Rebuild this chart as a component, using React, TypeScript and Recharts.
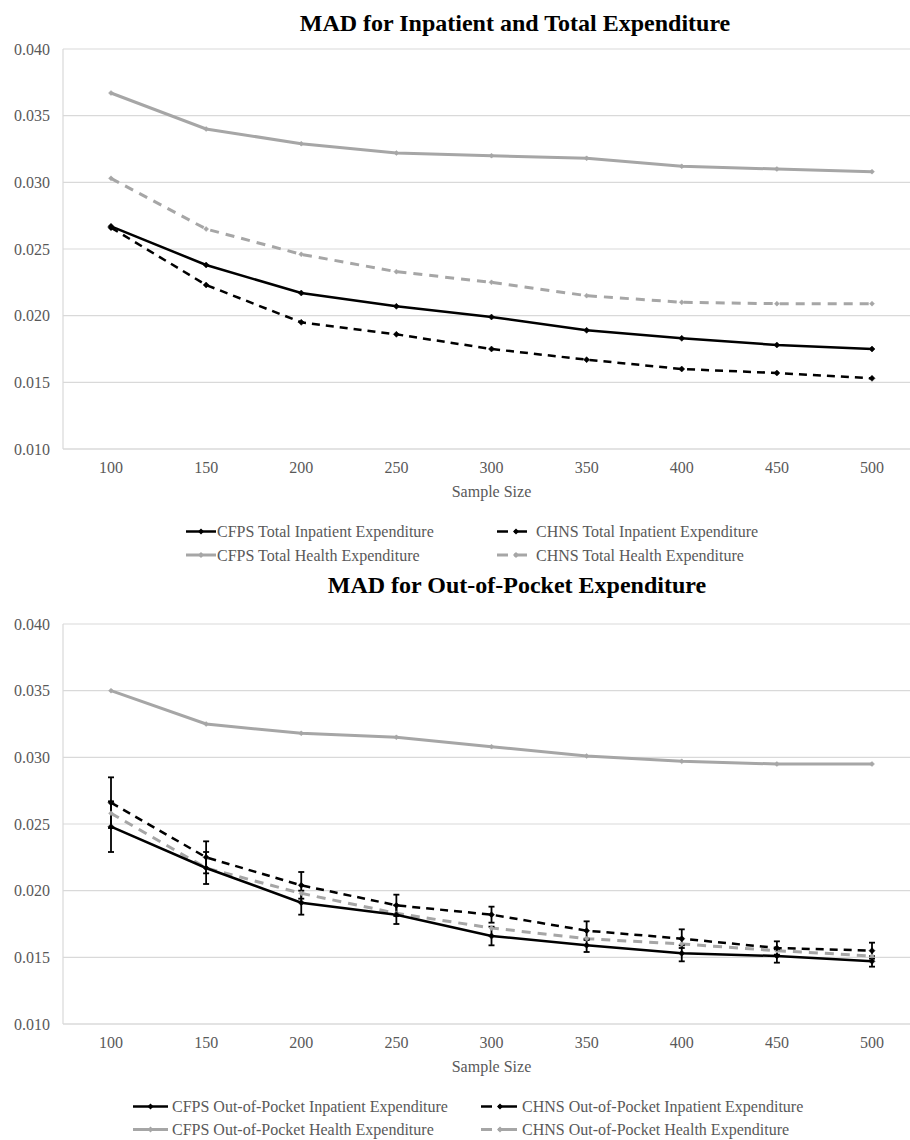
import React from 'react';
import { LineChart, Line, XAxis, YAxis, CartesianGrid, ErrorBar } from 'recharts';

// ---- Data ----
const sampleSizes = [100, 150, 200, 250, 300, 350, 400, 450, 500];
const yTicks = [0.01, 0.015, 0.02, 0.025, 0.03, 0.035, 0.04];

// Chart 1: MAD for Inpatient and Total Expenditure
const cfpsTotalInpatient = [0.0267, 0.0238, 0.0217, 0.0207, 0.0199, 0.0189, 0.0183, 0.0178, 0.0175];
const chnsTotalInpatient = [0.0266, 0.0223, 0.0195, 0.0186, 0.0175, 0.0167, 0.016, 0.0157, 0.0153];
const cfpsTotalHealth = [0.0367, 0.034, 0.0329, 0.0322, 0.032, 0.0318, 0.0312, 0.031, 0.0308];
const chnsTotalHealth = [0.0303, 0.0265, 0.0246, 0.0233, 0.0225, 0.0215, 0.021, 0.0209, 0.0209];

// Chart 2: MAD for Out-of-Pocket Expenditure
const cfpsOopInpatient = [0.0248, 0.0217, 0.0191, 0.0182, 0.0166, 0.0159, 0.0153, 0.0151, 0.0147];
const cfpsOopInpatientErr = [0.0019, 0.0012, 0.0009, 0.0007, 0.0007, 0.0005, 0.0006, 0.0005, 0.0004];
const chnsOopInpatient = [0.0266, 0.0225, 0.0204, 0.0189, 0.0182, 0.017, 0.0164, 0.0157, 0.0155];
const chnsOopInpatientErr = [0.0019, 0.0012, 0.001, 0.0008, 0.0006, 0.0007, 0.0007, 0.0005, 0.0006];
const cfpsOopHealth = [0.035, 0.0325, 0.0318, 0.0315, 0.0308, 0.0301, 0.0297, 0.0295, 0.0295];
const chnsOopHealth = [0.0258, 0.0217, 0.0198, 0.0183, 0.0172, 0.0164, 0.016, 0.0155, 0.0151];

const titles = ['MAD for Inpatient and Total Expenditure', 'MAD for Out-of-Pocket Expenditure'];
const legend1 = [
  'CFPS Total Inpatient Expenditure',
  'CHNS Total Inpatient Expenditure',
  'CFPS Total Health Expenditure',
  'CHNS Total Health Expenditure',
];
const legend2 = [
  'CFPS Out-of-Pocket Inpatient Expenditure',
  'CHNS Out-of-Pocket Inpatient Expenditure',
  'CFPS Out-of-Pocket Health Expenditure',
  'CHNS Out-of-Pocket Health Expenditure',
];
const xAxisTitle = 'Sample Size';

const topData = sampleSizes.map((n, i) => ({
  n,
  cfpsInp: cfpsTotalInpatient[i],
  chnsInp: chnsTotalInpatient[i],
  cfpsHlth: cfpsTotalHealth[i],
  chnsHlth: chnsTotalHealth[i],
}));

const bottomData = sampleSizes.map((n, i) => ({
  n,
  cfpsInp: cfpsOopInpatient[i],
  cfpsInpErr: cfpsOopInpatientErr[i],
  chnsInp: chnsOopInpatient[i],
  chnsInpErr: chnsOopInpatientErr[i],
  cfpsHlth: cfpsOopHealth[i],
  chnsHlth: chnsOopHealth[i],
}));

// ---- Styles ----
const FONT = "'Liberation Serif', 'Times New Roman', serif";
const BLACK = '#000000';
const GRAY = '#a6a6a6';
const GRID = '#d9d9d9';
const TEXT = '#595959';

const makeDot = (color: string, r: number) => (props: any) => {
  const { cx, cy, index } = props;
  if (cx == null || cy == null) return <g key={`e${index}`} />;
  return (
    <path
      key={`d${index}`}
      d={`M${cx},${cy - r}L${cx + r},${cy}L${cx},${cy + r}L${cx - r},${cy}Z`}
      fill={color}
      stroke={color}
      strokeWidth={0.5}
      strokeDasharray="0"
    />
  );
};

const tickStyle = { fill: TEXT, fontSize: 16, fontFamily: FONT };

function ChartFrame({ data, children }: { data: any[]; children: React.ReactNode }) {
  return (
    <LineChart width={920} height={509} data={data} margin={{ top: 49, right: 0, bottom: 0, left: 0 }}>
      <CartesianGrid vertical={false} stroke={GRID} strokeWidth={1.2} />
      <XAxis
        dataKey="n"
        type="category"
        padding={{ left: 48, right: 48 }}
        tickLine={false}
        tickSize={0}
        tickMargin={13}
        axisLine={{ stroke: GRID, strokeWidth: 1.2 }}
        tick={tickStyle}
        height={60}
        interval={0}
        label={{ value: xAxisTitle, position: 'insideBottom', offset: 12, fill: TEXT, fontSize: 16, fontFamily: FONT }}
      />
      <YAxis
        type="number"
        domain={[0.01, 0.04]}
        ticks={yTicks}
        tickFormatter={(v: number) => v.toFixed(3)}
        tickLine={false}
        tickSize={0}
        tickMargin={13}
        axisLine={{ stroke: GRID, strokeWidth: 1.2 }}
        tick={tickStyle}
        width={63}
        interval={0}
      />
      {children}
    </LineChart>
  );
}

function LegendIcon({ x1, x2, y, color, dashed, w }: { x1: number; x2: number; y: number; color: string; dashed: boolean; w: number }) {
  const r = 3;
  if (dashed) {
    const mx = x1 + 19;
    return (
      <g>
        <line x1={x1} x2={x1 + 11} y1={y} y2={y} stroke={color} strokeWidth={w} />
        <line x1={x1 + 17} x2={x2} y1={y} y2={y} stroke={color} strokeWidth={w} />
        <path d={`M${mx},${y - r}L${mx + r},${y}L${mx},${y + r}L${mx - r},${y}Z`} fill={color} />
      </g>
    );
  }
  const mx = (x1 + x2) / 2;
  return (
    <g>
      <line x1={x1} x2={x2} y1={y} y2={y} stroke={color} strokeWidth={w} />
      <path d={`M${mx},${y - r}L${mx + r},${y}L${mx},${y + r}L${mx - r},${y}Z`} fill={color} />
    </g>
  );
}

function Overlay() {
  const legendRows = [
    { labels: legend1, y1: 537, y2: 560.5, c1: [186, 216, 217], c2: [497, 527, 536] },
    { labels: legend2, y1: 1112, y2: 1135, c1: [133, 168, 172], c2: [481, 517, 522] },
  ];
  return (
    <svg width={910} height={1140} style={{ position: 'absolute', left: 0, top: 0, pointerEvents: 'none' }}>
      <text x={515} y={30.5} textAnchor="middle" fontFamily={FONT} fontWeight="bold" fontSize={24} fill="#000">
        {titles[0]}
      </text>
      <text x={517} y={593} textAnchor="middle" fontFamily={FONT} fontWeight="bold" fontSize={24} fill="#000">
        {titles[1]}
      </text>
      {legendRows.map((lr, k) => {
        const items = [
          { label: lr.labels[0], x: lr.c1, y: lr.y1, color: BLACK, dashed: false, w: 2.5 },
          { label: lr.labels[1], x: lr.c2, y: lr.y1, color: BLACK, dashed: true, w: 2.5 },
          { label: lr.labels[2], x: lr.c1, y: lr.y2, color: GRAY, dashed: false, w: 3 },
          { label: lr.labels[3], x: lr.c2, y: lr.y2, color: GRAY, dashed: true, w: 3 },
        ];
        return (
          <g key={k}>
            {items.map((it, j) => (
              <g key={j}>
                <LegendIcon x1={it.x[0]} x2={it.x[1]} y={it.y - 5.5} color={it.color} dashed={it.dashed} w={it.w} />
                <text x={it.x[2]} y={it.y} fontFamily={FONT} fontSize={16} fill={TEXT}>
                  {it.label}
                </text>
              </g>
            ))}
          </g>
        );
      })}
    </svg>
  );
}

export default function App() {
  return (
    <div style={{ position: 'absolute', left: 0, top: 0, width: 910, height: 1140, overflow: 'hidden', background: '#fff' }}>
      <div style={{ position: 'absolute', left: 0, top: 0 }}>
        <ChartFrame data={topData}>
          <Line dataKey="cfpsHlth" stroke={GRAY} strokeWidth={3} dot={makeDot(GRAY, 2.5)} isAnimationActive={false} />
          <Line dataKey="chnsHlth" stroke={GRAY} strokeWidth={3} strokeDasharray="9 7" dot={makeDot(GRAY, 2.5)} isAnimationActive={false} />
          <Line dataKey="chnsInp" stroke={BLACK} strokeWidth={2.5} strokeDasharray="8 6" dot={makeDot(BLACK, 3)} isAnimationActive={false} />
          <Line dataKey="cfpsInp" stroke={BLACK} strokeWidth={2.5} dot={makeDot(BLACK, 3)} isAnimationActive={false} />
        </ChartFrame>
      </div>
      <div style={{ position: 'absolute', left: 0, top: 575 }}>
        <ChartFrame data={bottomData}>
          <Line dataKey="cfpsHlth" stroke={GRAY} strokeWidth={3} dot={makeDot(GRAY, 2.5)} isAnimationActive={false} />
          <Line dataKey="chnsHlth" stroke={GRAY} strokeWidth={3} strokeDasharray="9 7" dot={makeDot(GRAY, 2.5)} isAnimationActive={false} />
          <Line dataKey="chnsInp" stroke={BLACK} strokeWidth={2.5} strokeDasharray="8 6" dot={makeDot(BLACK, 3)} isAnimationActive={false}>
            <ErrorBar dataKey="chnsInpErr" width={3} stroke={BLACK} strokeWidth={1.8} direction="y" isAnimationActive={false} />
          </Line>
          <Line dataKey="cfpsInp" stroke={BLACK} strokeWidth={2.5} dot={makeDot(BLACK, 3)} isAnimationActive={false}>
            <ErrorBar dataKey="cfpsInpErr" width={3} stroke={BLACK} strokeWidth={1.8} direction="y" isAnimationActive={false} />
          </Line>
        </ChartFrame>
      </div>
      <Overlay />
    </div>
  );
}
